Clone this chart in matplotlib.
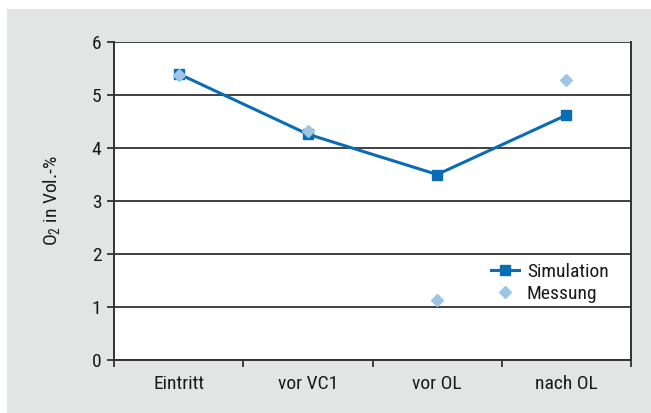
import matplotlib
matplotlib.use("Agg")
import matplotlib.pyplot as plt
from matplotlib.patches import Rectangle
from matplotlib import font_manager

categories = ["Eintritt", "vor VC1", "vor OL", "nach OL"]
simulation = [5.40, 4.26, 3.50, 4.62]
messung = [5.38, 4.32, 1.13, 5.28]
yticks = [0, 1, 2, 3, 4, 5, 6]

names = {f.name for f in font_manager.fontManager.ttflist}
fam = next((f for f in ["Roboto Condensed", "Archivo Narrow", "PT Sans Narrow", "Liberation Sans"] if f in names), "DejaVu Sans")
plt.rcParams["font.family"] = [fam, "DejaVu Sans"]
plt.rcParams["mathtext.fontset"] = "custom"
plt.rcParams["mathtext.rm"] = fam

TXT = "#1a1a1a"
FS = 14
W, H = 651, 413
fig = plt.figure(figsize=(W / 100, H / 100), dpi=100, facecolor="white")
fig.patches.append(Rectangle((7 / W, 0), 1 - 7 / W, 1 - 9 / H, transform=fig.transFigure,
                             facecolor="#e3e4e4", edgecolor="none", zorder=-10))

ax = fig.add_axes([114 / W, 1 - 360 / H, (631 - 114) / W, (360 - 42) / H])
ax.set_facecolor("white")
x = list(range(len(categories)))
ax.plot(x, simulation, color="#0a6cb4", lw=2.2, marker="s", ms=7.5, label="Simulation", zorder=3)
ax.plot(x, messung, linestyle="none", color="#9ec5e6", marker="D", ms=6.5, label="Messung", zorder=4)

ax.set_xlim(-0.5, len(categories) - 0.5)
ax.set_ylim(0, 6)
ax.set_yticks(yticks)
ax.set_yticklabels([str(v) for v in yticks])
ax.set_xticks(x)
ax.set_xticklabels(categories)
ax.set_xticks([i - 0.5 for i in range(len(categories) + 1)], minor=True)
ax.tick_params(axis="x", which="major", length=0, pad=11, labelsize=FS, colors=TXT)
ax.tick_params(axis="x", which="minor", length=5, width=1.3, color="#333333")
ax.tick_params(axis="y", length=5, width=1.3, color="#333333", labelsize=FS, labelcolor=TXT, pad=4)
ax.yaxis.grid(True, color="#404040", lw=1.4)
ax.set_axisbelow(True)
for s in ["left", "bottom", "right"]:
    ax.spines[s].set_color("#333333")
    ax.spines[s].set_linewidth(1.4)
ax.spines["top"].set_visible(False)
ax.set_ylabel(r"O$_2$ in Vol.-%", fontsize=FS, color=TXT, labelpad=21)

leg = ax.legend(loc="upper left", bbox_to_anchor=(369 / 517, (360 - 255) / 318), frameon=False,
                fontsize=FS, handlelength=1.45, handletextpad=0.4, labelspacing=0.2, borderaxespad=0)
for t in leg.get_texts():
    t.set_color(TXT)
fig.savefig("out.png", dpi=100, facecolor="white")
